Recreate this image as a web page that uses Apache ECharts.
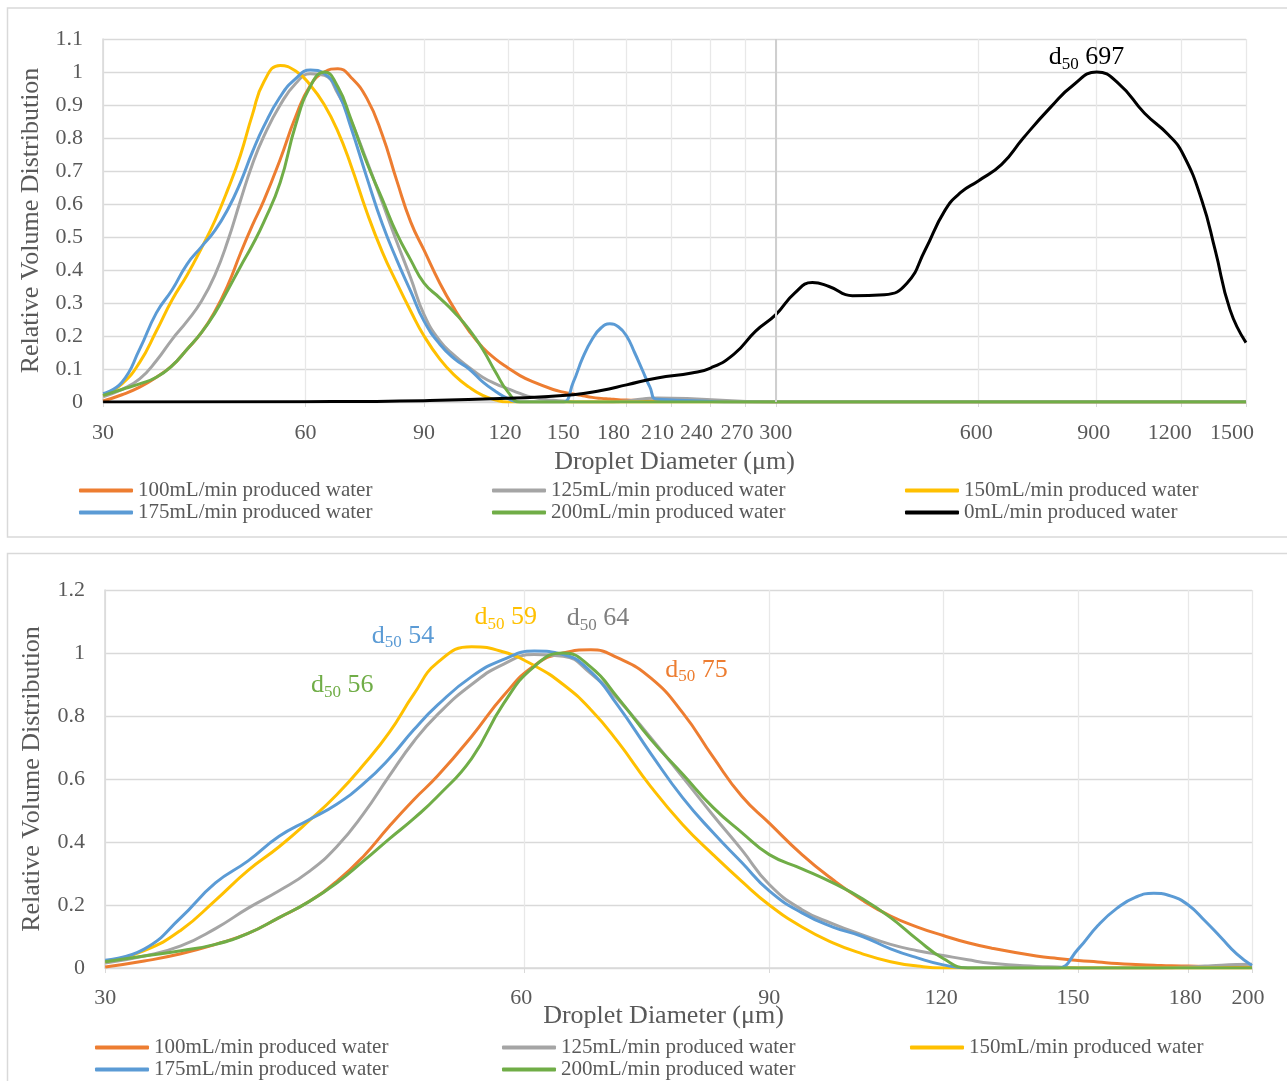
<!DOCTYPE html>
<html><head><meta charset="utf-8">
<script src="https://cdn.jsdelivr.net/npm/echarts@6/dist/echarts.min.js"></script>
<style>html,body{margin:0;padding:0;background:#fff;}#c{width:1287px;height:1081px;}</style>
</head><body><div id="c"></div>
<script>
// ---------- data ----------
const seriesNames = ['100mL/min produced water','125mL/min produced water','150mL/min produced water','175mL/min produced water','200mL/min produced water','0mL/min produced water'];
const seriesColors = ['#ED7D31','#A5A5A5','#FFC000','#5B9BD5','#70AD47','#000000'];
const labelColors = ['#ED7D31','#7F7F7F','#FFC000','#5B9BD5','#70AD47','#000000'];

const diameters = [30,32,34,36,38,40,42,44,46,48,50,52,55,58,61,64,67,70,74,78,82,86,90,95,100,105,110,115,120,125,130,140,145,150,155,160,165,170,175,180,185,190,195,200];
const v100 = [0.003,0.022,0.045,0.075,0.11,0.16,0.21,0.275,0.355,0.45,0.535,0.61,0.735,0.865,0.96,1.0,1.01,0.985,0.92,0.81,0.67,0.545,0.46,0.36,0.28,0.215,0.165,0.13,0.103,0.08,0.063,0.038,0.03,0.024,0.019,0.014,0.011,0.009,0.007,0.006,0.005,0.004,0.003,0.003];
const v125 = [0.016,0.038,0.07,0.125,0.19,0.245,0.305,0.385,0.49,0.61,0.72,0.805,0.90,0.965,0.995,0.99,0.935,0.855,0.73,0.605,0.485,0.375,0.265,0.185,0.14,0.105,0.075,0.055,0.04,0.026,0.015,0.005,0.003,0,0,0,0,0,0.001,0.003,0.006,0.009,0.011,0.012];
const v150 = [0.02,0.055,0.12,0.215,0.31,0.385,0.466,0.55,0.645,0.748,0.87,0.97,1.02,1.003,0.96,0.90,0.82,0.72,0.575,0.455,0.36,0.275,0.20,0.13,0.08,0.045,0.02,0.006,0,0,0,0,0,0,0,0,0,0,0,0,0,0,0,0];
const v175 = [0.025,0.06,0.16,0.27,0.34,0.418,0.47,0.52,0.585,0.665,0.757,0.835,0.925,0.98,1.006,0.995,0.94,0.835,0.68,0.54,0.43,0.335,0.245,0.175,0.13,0.10,0.061,0.032,0.01,0,0,0,0,0.06,0.135,0.19,0.225,0.237,0.228,0.20,0.15,0.097,0.045,0.008];
const v200 = [0.02,0.038,0.055,0.075,0.11,0.16,0.21,0.27,0.34,0.41,0.475,0.545,0.665,0.84,0.957,1.0,0.955,0.86,0.725,0.615,0.51,0.43,0.36,0.315,0.27,0.22,0.16,0.09,0.03,0,0,0,0,0,0,0,0,0,0,0,0,0,0,0];
const tailDiameters = [300, 1500];

const blackDiameters = [30,60,90,120,150,165,180,200,225,240,260,280,300,320,340,360,390,435,470,500,535,565,600,650,700,770,830,900,970,1060,1150,1210,1290,1350,1420,1500];
const v0 = [0,0.001,0.004,0.011,0.022,0.035,0.052,0.073,0.088,0.103,0.145,0.215,0.265,0.33,0.362,0.35,0.322,0.325,0.36,0.46,0.58,0.635,0.67,0.72,0.80,0.895,0.96,1.0,0.965,0.875,0.81,0.75,0.61,0.46,0.28,0.18];

const topTicks = [30,60,90,120,150,180,210,240,270,300,600,900,1200,1500];
const bottomTicks = [30,60,90,120,150,180,200];

// d50 annotations: [series index, text value, diameter, relative volume]
const d50Bottom = [[3,'54',49.1,1.054],[2,'59',58.2,1.114],[1,'64',67.8,1.111],[0,'75',79.8,0.946],[4,'56',44.4,0.898]];
const d50Top = [[5,'697',869,1.045]];

// ---------- styling ----------
const FONT = 'Liberation Serif';
const GREY = '#595959';
const topShift = {120:-3,150:-10,180:-13,210:-14,240:-14,270:-8,600:-2,900:-3,1200:-11,1500:-14};
const bottomShift = {60:-3,120:-2,150:-5,180:-3,200:-4};

function pairs(xs, ys){ return xs.map((x,i)=>[x, ys[i]]); }

function xLabel(ticks, shifts, margin){
  const rich = {};
  Object.keys(shifts).forEach(k=>{ const s=-shifts[k]; rich['s'+s] = {fontSize:22, fontFamily:FONT, color:GREY, padding:[0,2*s,0,0]}; });
  return {
    customValues: ticks, fontSize:22, fontFamily:FONT, color:GREY, margin:margin,
    showMinLabel:true, showMaxLabel:true,
    formatter: v => { const r=Math.round(v); const s=shifts[r]; return s ? '{s'+(-s)+'|'+r+'}' : String(r); },
    rich
  };
}

function d50MarkPoint(item, color){
  return {
    silent:true, symbol:'rect', symbolSize:1, itemStyle:{color:'rgba(0,0,0,0)'},
    label:{show:true, position:'inside', formatter:'{d|d}{s|50}{n| '+item[1]+'}',
      rich:{
        d:{fontSize:26,fontFamily:FONT,color:color},
        s:{fontSize:17,fontFamily:FONT,color:color,padding:[14,0,0,0]},
        n:{fontSize:26,fontFamily:FONT,color:color}
      }},
    data:[{coord:[item[2], item[3]]}]
  };
}

const series = [];
const vals = [v100, v125, v150, v175, v200];
// top panel
vals.forEach((v,i)=>{
  series.push({name:seriesNames[i], type:'line', xAxisIndex:0, yAxisIndex:0, smooth:0.5, symbol:'none',
    lineStyle:{width:3, color:seriesColors[i]}, itemStyle:{color:seriesColors[i]},
    data: pairs(diameters, v).concat(tailDiameters.map(x=>[x,0]))});
});
series.push({name:seriesNames[5], type:'line', xAxisIndex:0, yAxisIndex:0, smooth:0.5, symbol:'none',
  lineStyle:{width:3, color:seriesColors[5]}, itemStyle:{color:seriesColors[5]},
  data: pairs(blackDiameters, v0),
  markPoint: d50MarkPoint(d50Top[0], labelColors[5]),
  markLine:{silent:true, symbol:['none','none'], label:{show:false}, lineStyle:{color:'#cfcfcf', width:2, type:'solid'}, data:[{xAxis:300}]}
});
// bottom panel
vals.forEach((v,i)=>{
  const s = {name:seriesNames[i], type:'line', xAxisIndex:1, yAxisIndex:1, smooth:0.5, symbol:'none',
    lineStyle:{width:3, color:seriesColors[i]}, itemStyle:{color:seriesColors[i]},
    data: pairs(diameters, v)};
  const ann = d50Bottom.find(a=>a[0]===i);
  if (ann) s.markPoint = d50MarkPoint(ann, labelColors[i]);
  series.push(s);
});

function legend(names, left, top){
  return {data:names, orient:'vertical', left:left, top:top, padding:0, icon:'roundRect', itemWidth:54, itemHeight:4, itemGap:1,
    selectedMode:false, textStyle:{fontFamily:FONT, fontSize:21, color:GREY, lineHeight:21}};
}

const axisName = {fontFamily:FONT, fontSize:26, color:GREY};

const option = {
  animation:false,
  backgroundColor:'#ffffff',
  graphic:[
    {type:'rect', z:-10, shape:{x:7.5, y:8, width:1300, height:529}, style:{fill:'none', stroke:'#d9d9d9', lineWidth:1.5}},
    {type:'rect', z:-10, shape:{x:7.5, y:553.5, width:1300, height:600}, style:{fill:'none', stroke:'#d9d9d9', lineWidth:1.5}}
  ],
  grid:[
    {left:103, top:39, width:1143, height:363},
    {left:105, top:590, width:1147, height:378}
  ],
  xAxis:[
    {type:'log', gridIndex:0, min:29.99, max:1500.1, name:'Droplet Diameter (μm)', nameLocation:'middle', nameGap:47, nameTextStyle:axisName,
      axisLine:{show:true, lineStyle:{color:'#d9d9d9', width:1.5}},
      axisTick:{show:true, customValues:topTicks, length:5, lineStyle:{color:'#d9d9d9'}},
      axisLabel:xLabel(topTicks, topShift, 20),
      splitLine:{show:true, lineStyle:{color:'#e8e8e8', width:1.3}},
      minorTick:{show:false}, minorSplitLine:{show:false}},
    {type:'log', gridIndex:1, min:29.99, max:200.01, name:'Droplet Diameter (μm)', nameLocation:'middle', nameGap:35, nameMoveOverlap:false,
      nameTextStyle:Object.assign({padding:[0,30,0,0]}, axisName),
      axisLine:{show:true, lineStyle:{color:'#d9d9d9', width:1.5}},
      axisTick:{show:true, customValues:bottomTicks, length:5, lineStyle:{color:'#d9d9d9'}},
      axisLabel:xLabel(bottomTicks, bottomShift, 19),
      splitLine:{show:true, lineStyle:{color:'#e8e8e8', width:1.3}},
      minorTick:{show:false}, minorSplitLine:{show:false}}
  ],
  yAxis:[
    {type:'value', gridIndex:0, min:0, max:1.1, interval:0.1, name:'Relative Volume Distribution', nameLocation:'middle', nameGap:58, nameTextStyle:axisName,
      axisLine:{show:true, lineStyle:{color:'#d9d9d9', width:1.5}}, axisTick:{show:false},
      axisLabel:{fontSize:22, fontFamily:FONT, color:GREY, margin:20},
      splitLine:{show:true, lineStyle:{color:'#d9d9d9', width:1.3}}},
    {type:'value', gridIndex:1, min:0, max:1.2, interval:0.2, name:'Relative Volume Distribution', nameLocation:'middle', nameGap:60, nameTextStyle:axisName,
      axisLine:{show:true, lineStyle:{color:'#d9d9d9', width:1.5}}, axisTick:{show:false},
      axisLabel:{fontSize:22, fontFamily:FONT, color:GREY, margin:20},
      splitLine:{show:true, lineStyle:{color:'#d9d9d9', width:1.3}}}
  ],
  legend:[
    legend([seriesNames[0], seriesNames[3]], 79, 480),
    legend([seriesNames[1], seriesNames[4]], 492, 480),
    legend([seriesNames[2], seriesNames[5]], 905, 480),
    legend([seriesNames[0], seriesNames[3]], 95, 1037),
    legend([seriesNames[1], seriesNames[4]], 502, 1037),
    legend([seriesNames[2]], 910, 1037)
  ],
  series: series
};

const chart = echarts.init(document.getElementById('c'), null, {renderer:'canvas'});
chart.setOption(option);
</script>
</body></html>
